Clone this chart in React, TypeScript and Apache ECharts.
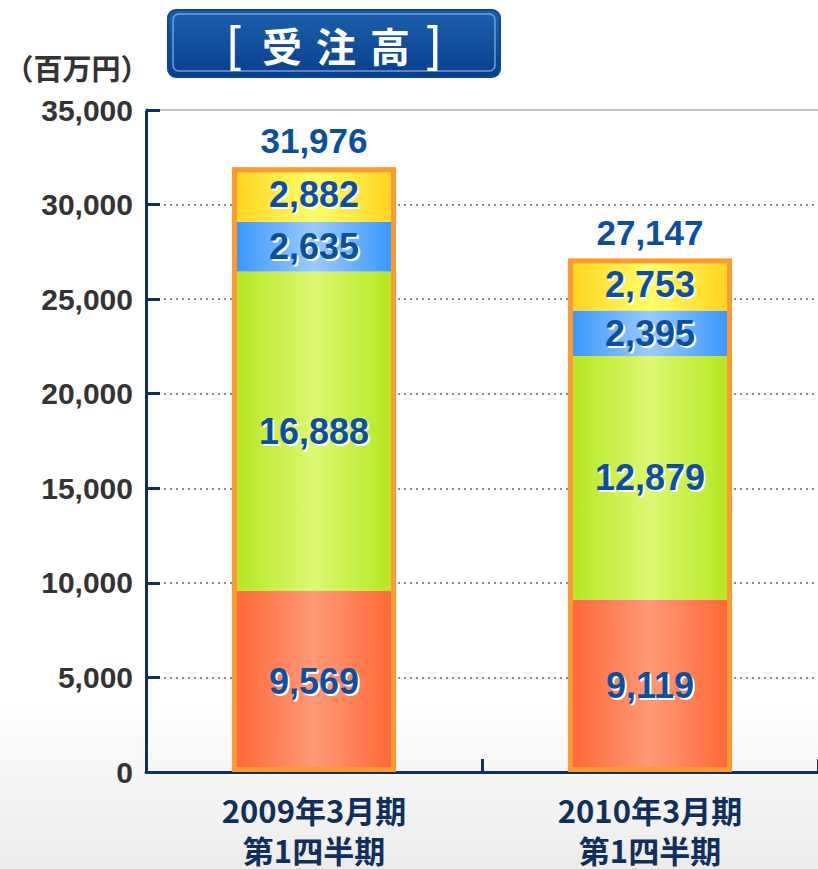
import React, { useEffect, useRef } from "react";
import * as echarts from "echarts";

const categories = ["2009年3月期\n第1四半期", "2010年3月期\n第1四半期"];
const segRed = [9569, 9119];
const segGreen = [16888, 12879];
const segBlue = [2635, 2395];
const segYellow = [2882, 2753];
const totals = [31976, 27147];
const yTicks = { min: 0, max: 35000, interval: 5000 };
const titleChars = ["受", "注", "高"];

const fmt = (v: number) => v.toLocaleString("en-US");

const hGrad = (edge: string, mid: string) =>
  new echarts.graphic.LinearGradient(0, 0, 1, 0, [
    { offset: 0, color: edge },
    { offset: 0.5, color: mid },
    { offset: 1, color: edge },
  ]);

const LABEL_BLUE = "#0b4f9f";
const NAVY = "#0f2f5c";
const BAR_W = 164;

export default function App() {
  const ref = useRef<HTMLDivElement>(null);
  useEffect(() => {
    document.body.style.margin = "0";
    if (!ref.current) return;
    const chart = echarts.init(ref.current, undefined, { renderer: "svg" });
    const labelBase = {
      show: true,
      position: "inside" as const,
      formatter: (p: any) => fmt(p.value),
      fontSize: 36,
      fontWeight: "bold" as const,
      fontFamily: "Liberation Sans, Arial, sans-serif",
    };
    const common = {
      type: "bar",
      barWidth: BAR_W,
      barGap: "-100%",
      barCategoryGap: "50%",
    };
    const seg = (name: string, data: number[], edge: string, mid: string) => ({
      ...common,
      name,
      stack: "total",
      data,
      itemStyle: { color: hGrad(edge, mid) },
      label: { ...labelBase, color: "#ffffff", offset: [2, 2] },
      z: 2,
    });
    const labSeg = (name: string, data: number[]) => ({
      ...common,
      name,
      stack: "labels",
      data,
      itemStyle: { color: "rgba(0,0,0,0)" },
      label: { ...labelBase, color: LABEL_BLUE },
      z: 4,
    });
    const titleText = titleChars.map((c, i) => ({
      type: "text",
      x: 282 + i * 54,
      y: 45,
      style: {
        text: c,
        fill: "#ffffff",
        font: "bold 40px 'Noto Sans CJK JP', sans-serif",
        align: "center",
        verticalAlign: "middle",
      },
      z: 12,
    }));
    const bracket = (t: string, x: number) => ({
      type: "text",
      x,
      y: 44,
      style: {
        text: t,
        fill: "#ffffff",
        font: "50px 'Liberation Sans', sans-serif",
        align: "center",
        verticalAlign: "middle",
      },
      z: 12,
    });
    chart.setOption({
      animation: false,
      backgroundColor: new echarts.graphic.LinearGradient(0, 0, 0, 1, [
        { offset: 0, color: "#ffffff" },
        { offset: 0.8, color: "#ffffff" },
        { offset: 1, color: "#ececec" },
      ]),
      grid: { left: 146, right: -4, top: 110, bottom: 90, containLabel: false },
      xAxis: [
        {
          type: "category",
          data: categories,
          axisLine: { lineStyle: { color: NAVY, width: 3 } },
          axisTick: { show: true, inside: true, length: 13, lineStyle: { color: NAVY, width: 3 } },
          axisLabel: {
            color: NAVY,
            fontSize: 31,
            fontWeight: "bold",
            fontFamily: "Liberation Sans Narrow, Noto Sans CJK JP, sans-serif",
            lineHeight: 40,
            margin: 17,
          },
        },
        {
          type: "category",
          data: categories,
          position: "top",
          axisLine: { lineStyle: { color: "#c4c4c4", width: 2 } },
          axisTick: { show: false },
          axisLabel: { show: false },
        },
      ],
      yAxis: {
        type: "value",
        min: yTicks.min,
        max: yTicks.max,
        interval: yTicks.interval,
        axisLine: { show: true, lineStyle: { color: NAVY, width: 3 } },
        axisTick: { show: true, inside: true, length: 14, lineStyle: { color: NAVY, width: 3 } },
        axisLabel: {
          color: "#333333",
          fontSize: 30,
          fontWeight: "bold",
          fontFamily: "Liberation Sans, Arial, sans-serif",
          margin: 13,
          formatter: (v: number) => fmt(v),
        },
        splitLine: { lineStyle: { color: "#8c8c8c", type: [2, 4], width: 2 } },
      },
      series: [
        seg("区分A", segRed, "#ff6633", "#ff9977"),
        seg("区分B", segGreen, "#b5e61d", "#dcf872"),
        seg("区分C", segBlue, "#3494fc", "#9acbff"),
        seg("区分D", segYellow, "#ffd21c", "#ffff66"),
        labSeg("区分A ", segRed),
        labSeg("区分B ", segGreen),
        labSeg("区分C ", segBlue),
        labSeg("区分D ", segYellow),
        {
          ...common,
          name: "合計",
          data: totals,
          itemStyle: { color: "rgba(0,0,0,0)", borderColor: "#ff9a33", borderWidth: 5 },
          label: {
            show: true,
            position: "top",
            distance: 9,
            formatter: (p: any) => fmt(p.value),
            color: LABEL_BLUE,
            fontSize: 35,
            fontWeight: "bold",
            fontFamily: "Liberation Sans, Arial, sans-serif",
          },
          z: 3,
        },
      ],
      graphic: [
        {
          type: "rect",
          shape: { x: 168, y: 10, width: 332, height: 67, r: 8 },
          style: {
            fill: new echarts.graphic.LinearGradient(0, 0, 0, 1, [
              { offset: 0, color: "#1d60ae" },
              { offset: 1, color: "#083f8c" },
            ]),
            stroke: "#0a4794",
            lineWidth: 2,
          },
          z: 10,
        },
        {
          type: "rect",
          shape: { x: 173, y: 14, width: 322, height: 57, r: 6 },
          style: { fill: "none", stroke: "#6e9fd9", lineWidth: 1.5 },
          z: 11,
        },
        bracket("[", 234),
        ...titleText,
        bracket("]", 434),
        {
          type: "text",
          x: 77,
          y: 67,
          style: {
            text: "（百万円）",
            fill: "#333333",
            font: "bold 29px 'Noto Sans CJK JP', sans-serif",
            align: "center",
            verticalAlign: "middle",
          },
          z: 12,
        },
      ],
    });
    return () => chart.dispose();
  }, []);
  return <div ref={ref} style={{ width: 818, height: 869 }} />;
}
